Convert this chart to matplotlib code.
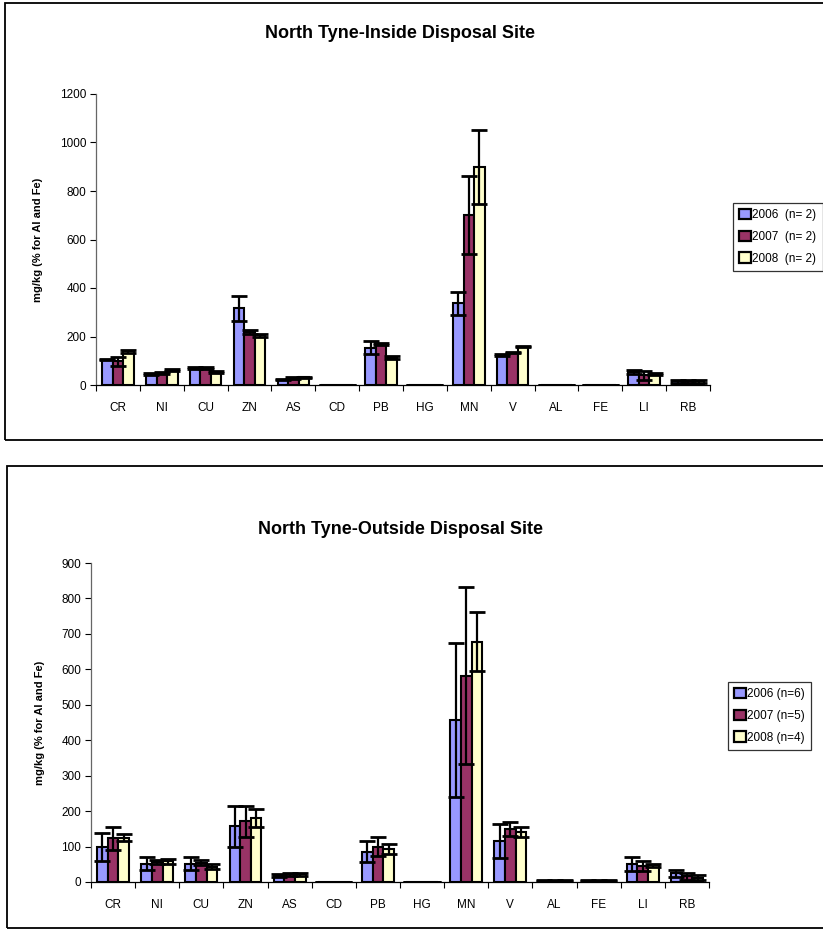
import matplotlib
matplotlib.use("Agg")
import matplotlib.pyplot as plt
import numpy as np
from matplotlib.patches import Rectangle, Patch

plt.rcParams['font.family'] = ['Liberation Sans', 'DejaVu Sans']

categories = ["CR", "NI", "CU", "ZN", "AS", "CD", "PB", "HG", "MN", "V", "AL", "FE", "LI", "RB"]

# Inside disposal site
in_2006 = [105, 47, 70, 317, 22, 0.5, 153, 0.2, 337, 124, 1.5, 1.5, 55, 15]
in_2006_err = [3, 4, 5, 52, 3, 0.2, 27, 0.1, 48, 3, 0.3, 0.3, 8, 6]
in_2007 = [97, 50, 72, 220, 29, 0.5, 168, 0.2, 702, 134, 1.5, 1.5, 40, 15]
in_2007_err = [20, 4, 4, 8, 3, 0.2, 4, 0.1, 161, 3, 0.3, 0.3, 18, 5]
in_2008 = [140, 62, 53, 205, 32, 0.5, 112, 0.2, 900, 158, 1.5, 1.5, 45, 15]
in_2008_err = [6, 3, 3, 6, 3, 0.2, 6, 0.1, 153, 3, 0.3, 0.3, 5, 5]
in_labels = ["2006  (n= 2)", "2007  (n= 2)", "2008  (n= 2)"]

# Outside disposal site
out_2006 = [98, 52, 52, 157, 18, 0.5, 86, 0.2, 457, 116, 4, 4, 50, 24]
out_2006_err = [39, 19, 19, 57, 5, 0.2, 29, 0.1, 217, 47, 1, 1, 20, 9]
out_2007 = [123, 57, 55, 171, 22, 0.5, 100, 0.2, 582, 149, 4, 4, 45, 16]
out_2007_err = [33, 5, 8, 43, 4, 0.2, 28, 0.1, 250, 20, 1, 1, 15, 9]
out_2008 = [125, 58, 43, 180, 22, 0.5, 94, 0.2, 678, 141, 4, 4, 47, 12]
out_2008_err = [10, 6, 7, 25, 4, 0.2, 14, 0.1, 83, 14, 1, 1, 4, 7]
out_labels = ["2006 (n=6)", "2007 (n=5)", "2008 (n=4)"]

colors = ["#9999FF", "#993366", "#FFFFCC"]

W, H = 823, 936
fig = plt.figure(figsize=(W / 100, H / 100), dpi=100)


def frame(x0, y0, x1, y1):
    fig.patches.append(Rectangle((x0 / W, 1 - y1 / H), (x1 - x0) / W, (y1 - y0) / H,
                                 transform=fig.transFigure, fill=False,
                                 edgecolor="#000000", linewidth=1.3, zorder=0))


def panel(rect, series, errs, labels, ymax, ystep, title, title_y, leg_box):
    ax = fig.add_axes(rect)
    n = len(categories)
    x = np.arange(n)
    bw = 0.24
    offs = [-bw, 0, bw]
    for s, c, o in zip(series, colors, offs):
        ax.bar(x + o, s, width=bw, color=c, edgecolor="black", linewidth=1.5, zorder=2)
    for s, e, o in zip(series, errs, offs):
        ax.errorbar(x + o, s, yerr=e, fmt="none", ecolor="black", elinewidth=1.6,
                    capsize=6, capthick=2, zorder=3)
    ax.set_xlim(-0.5, n - 0.5)
    ax.set_ylim(0, ymax)
    ax.set_yticks(np.arange(0, ymax + 1, ystep))
    ax.set_xticks(x)
    ax.set_xticklabels(categories, fontsize=8.5)
    ax.set_xticks(np.arange(-0.5, n, 1), minor=True)
    ax.tick_params(axis="x", which="major", length=0, pad=12)
    ax.tick_params(axis="x", which="minor", length=4, direction="out", width=0.8)
    ax.tick_params(axis="y", length=4, direction="out", width=0.8, labelsize=8.5, pad=3)
    for sp in ["top", "right"]:
        ax.spines[sp].set_visible(False)
    ax.spines["left"].set_color("#666666")
    ax.spines["left"].set_linewidth(0.9)
    ax.spines["bottom"].set_linewidth(0.9)
    ax.set_ylabel("mg/kg (% for Al and Fe)", fontsize=8, fontweight="bold", labelpad=12)
    fig.text(400 / W, 1 - title_y / H, title, ha="center", va="center",
             fontsize=13, fontweight="bold")
    handles = [Patch(facecolor=c, edgecolor="black", linewidth=1.6) for c in colors]
    lx, ly = leg_box
    leg = fig.legend(handles, labels, loc="upper left",
                     bbox_to_anchor=(lx / W, 1 - ly / H), fontsize=8.5,
                     frameon=True, fancybox=False, edgecolor="black",
                     handlelength=1.0, handleheight=1.0, handletextpad=0.15,
                     borderpad=0.5, labelspacing=0.8, borderaxespad=0)
    leg.get_frame().set_linewidth(0.9)
    return ax


frame(5, 3, 840, 440)
frame(7, 466, 840, 928)

panel([96 / W, 1 - 385 / H, 614 / W, 291 / H],
      [in_2006, in_2007, in_2008], [in_2006_err, in_2007_err, in_2008_err],
      in_labels, 1200, 200, "North Tyne-Inside Disposal Site", 33, (733, 203))

panel([91 / W, 1 - 882 / H, 618 / W, 319 / H],
      [out_2006, out_2007, out_2008], [out_2006_err, out_2007_err, out_2008_err],
      out_labels, 900, 100, "North Tyne-Outside Disposal Site", 530, (728, 682))

fig.savefig("out.png", dpi=100)
